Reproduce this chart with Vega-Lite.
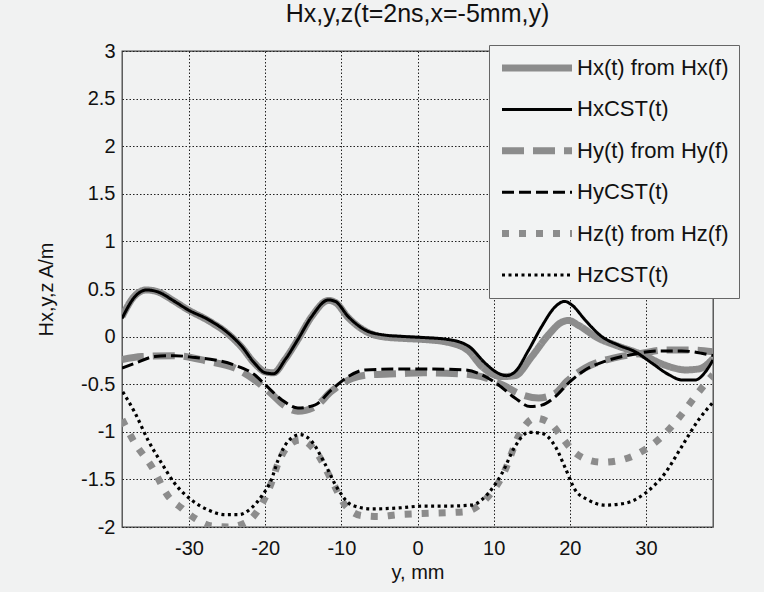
{
  "$schema": "https://vega.github.io/schema/vega-lite/v6.json",
  "autosize": {"type": "none"},
  "padding": {"left": 122, "top": 51, "right": 51, "bottom": 65},
  "width": 591,
  "height": 476,
  "background": "#f1f2f2",
  "title": {
    "text": "Hx,y,z(t=2ns,x=-5mm,y)",
    "frame": "group",
    "anchor": "middle",
    "offset": 14,
    "font": "Liberation Sans",
    "fontSize": 25,
    "fontWeight": "normal",
    "color": "#111"
  },
  "datasets": {
    "fft": [
      {"pos": -38.8, "H": 0.21, "series": "Hx(t) from Hx(f)"},
      {"pos": -37.1, "H": 0.43, "series": "Hx(t) from Hx(f)"},
      {"pos": -35.6, "H": 0.49, "series": "Hx(t) from Hx(f)"},
      {"pos": -34.1, "H": 0.47, "series": "Hx(t) from Hx(f)"},
      {"pos": -31.9, "H": 0.37, "series": "Hx(t) from Hx(f)"},
      {"pos": -30.1, "H": 0.28, "series": "Hx(t) from Hx(f)"},
      {"pos": -27.5, "H": 0.17, "series": "Hx(t) from Hx(f)"},
      {"pos": -24.9, "H": 0.03, "series": "Hx(t) from Hx(f)"},
      {"pos": -23.1, "H": -0.11, "series": "Hx(t) from Hx(f)"},
      {"pos": -21.4, "H": -0.28, "series": "Hx(t) from Hx(f)"},
      {"pos": -20.0, "H": -0.37, "series": "Hx(t) from Hx(f)"},
      {"pos": -18.9, "H": -0.38, "series": "Hx(t) from Hx(f)"},
      {"pos": -17.4, "H": -0.24, "series": "Hx(t) from Hx(f)"},
      {"pos": -15.7, "H": -0.03, "series": "Hx(t) from Hx(f)"},
      {"pos": -13.9, "H": 0.21, "series": "Hx(t) from Hx(f)"},
      {"pos": -11.7, "H": 0.38, "series": "Hx(t) from Hx(f)"},
      {"pos": -10.8, "H": 0.36, "series": "Hx(t) from Hx(f)"},
      {"pos": -9.1, "H": 0.2, "series": "Hx(t) from Hx(f)"},
      {"pos": -6.9, "H": 0.06, "series": "Hx(t) from Hx(f)"},
      {"pos": -4.7, "H": 0.0, "series": "Hx(t) from Hx(f)"},
      {"pos": -1.6, "H": -0.02, "series": "Hx(t) from Hx(f)"},
      {"pos": 0.8, "H": -0.03, "series": "Hx(t) from Hx(f)"},
      {"pos": 4.0, "H": -0.06, "series": "Hx(t) from Hx(f)"},
      {"pos": 6.7, "H": -0.15, "series": "Hx(t) from Hx(f)"},
      {"pos": 8.4, "H": -0.31, "series": "Hx(t) from Hx(f)"},
      {"pos": 11.1, "H": -0.42, "series": "Hx(t) from Hx(f)"},
      {"pos": 12.8, "H": -0.41, "series": "Hx(t) from Hx(f)"},
      {"pos": 15.0, "H": -0.21, "series": "Hx(t) from Hx(f)"},
      {"pos": 17.2, "H": 0.02, "series": "Hx(t) from Hx(f)"},
      {"pos": 18.9, "H": 0.15, "series": "Hx(t) from Hx(f)"},
      {"pos": 19.8, "H": 0.17, "series": "Hx(t) from Hx(f)"},
      {"pos": 21.1, "H": 0.12, "series": "Hx(t) from Hx(f)"},
      {"pos": 23.8, "H": -0.02, "series": "Hx(t) from Hx(f)"},
      {"pos": 26.0, "H": -0.09, "series": "Hx(t) from Hx(f)"},
      {"pos": 29.5, "H": -0.19, "series": "Hx(t) from Hx(f)"},
      {"pos": 32.5, "H": -0.3, "series": "Hx(t) from Hx(f)"},
      {"pos": 35.2, "H": -0.35, "series": "Hx(t) from Hx(f)"},
      {"pos": 36.9, "H": -0.34, "series": "Hx(t) from Hx(f)"},
      {"pos": 38.2, "H": -0.28, "series": "Hx(t) from Hx(f)"},
      {"pos": 38.8, "H": -0.23, "series": "Hx(t) from Hx(f)"},

      {"pos": -38.8, "H": -0.24, "series": "Hy(t) from Hy(f)"},
      {"pos": -36.2, "H": -0.21, "series": "Hy(t) from Hy(f)"},
      {"pos": -31.9, "H": -0.2, "series": "Hy(t) from Hy(f)"},
      {"pos": -27.5, "H": -0.26, "series": "Hy(t) from Hy(f)"},
      {"pos": -24.0, "H": -0.33, "series": "Hy(t) from Hy(f)"},
      {"pos": -21.4, "H": -0.455, "series": "Hy(t) from Hy(f)"},
      {"pos": -19.2, "H": -0.6, "series": "Hy(t) from Hy(f)"},
      {"pos": -17.4, "H": -0.73, "series": "Hy(t) from Hy(f)"},
      {"pos": -15.7, "H": -0.785, "series": "Hy(t) from Hy(f)"},
      {"pos": -13.5, "H": -0.74, "series": "Hy(t) from Hy(f)"},
      {"pos": -11.3, "H": -0.575, "series": "Hy(t) from Hy(f)"},
      {"pos": -8.6, "H": -0.44, "series": "Hy(t) from Hy(f)"},
      {"pos": -6.0, "H": -0.4, "series": "Hy(t) from Hy(f)"},
      {"pos": -2.5, "H": -0.39, "series": "Hy(t) from Hy(f)"},
      {"pos": 0.8, "H": -0.38, "series": "Hy(t) from Hy(f)"},
      {"pos": 5.4, "H": -0.39, "series": "Hy(t) from Hy(f)"},
      {"pos": 8.4, "H": -0.42, "series": "Hy(t) from Hy(f)"},
      {"pos": 11.1, "H": -0.505, "series": "Hy(t) from Hy(f)"},
      {"pos": 13.7, "H": -0.61, "series": "Hy(t) from Hy(f)"},
      {"pos": 15.9, "H": -0.645, "series": "Hy(t) from Hy(f)"},
      {"pos": 18.1, "H": -0.595, "series": "Hy(t) from Hy(f)"},
      {"pos": 19.6, "H": -0.47, "series": "Hy(t) from Hy(f)"},
      {"pos": 22.0, "H": -0.33, "series": "Hy(t) from Hy(f)"},
      {"pos": 26.0, "H": -0.22, "series": "Hy(t) from Hy(f)"},
      {"pos": 29.5, "H": -0.175, "series": "Hy(t) from Hy(f)"},
      {"pos": 32.5, "H": -0.14, "series": "Hy(t) from Hy(f)"},
      {"pos": 35.9, "H": -0.14, "series": "Hy(t) from Hy(f)"},
      {"pos": 38.8, "H": -0.16, "series": "Hy(t) from Hy(f)"},

      {"pos": -38.8, "H": -0.87, "series": "Hz(t) from Hz(f)"},
      {"pos": -37.1, "H": -1.12, "series": "Hz(t) from Hz(f)"},
      {"pos": -34.9, "H": -1.365, "series": "Hz(t) from Hz(f)"},
      {"pos": -32.7, "H": -1.68, "series": "Hz(t) from Hz(f)"},
      {"pos": -31.0, "H": -1.8, "series": "Hz(t) from Hz(f)"},
      {"pos": -29.2, "H": -1.91, "series": "Hz(t) from Hz(f)"},
      {"pos": -27.0, "H": -1.99, "series": "Hz(t) from Hz(f)"},
      {"pos": -24.9, "H": -2.0, "series": "Hz(t) from Hz(f)"},
      {"pos": -22.7, "H": -1.96, "series": "Hz(t) from Hz(f)"},
      {"pos": -20.9, "H": -1.82, "series": "Hz(t) from Hz(f)"},
      {"pos": -19.2, "H": -1.54, "series": "Hz(t) from Hz(f)"},
      {"pos": -18.3, "H": -1.33, "series": "Hz(t) from Hz(f)"},
      {"pos": -17.2, "H": -1.17, "series": "Hz(t) from Hz(f)"},
      {"pos": -15.4, "H": -1.085, "series": "Hz(t) from Hz(f)"},
      {"pos": -13.5, "H": -1.19, "series": "Hz(t) from Hz(f)"},
      {"pos": -11.3, "H": -1.505, "series": "Hz(t) from Hz(f)"},
      {"pos": -9.5, "H": -1.77, "series": "Hz(t) from Hz(f)"},
      {"pos": -7.3, "H": -1.88, "series": "Hz(t) from Hz(f)"},
      {"pos": -5.1, "H": -1.89, "series": "Hz(t) from Hz(f)"},
      {"pos": -2.5, "H": -1.87, "series": "Hz(t) from Hz(f)"},
      {"pos": 0.0, "H": -1.86, "series": "Hz(t) from Hz(f)"},
      {"pos": 6.2, "H": -1.84, "series": "Hz(t) from Hz(f)"},
      {"pos": 8.4, "H": -1.75, "series": "Hz(t) from Hz(f)"},
      {"pos": 11.1, "H": -1.47, "series": "Hz(t) from Hz(f)"},
      {"pos": 13.7, "H": -0.98, "series": "Hz(t) from Hz(f)"},
      {"pos": 15.4, "H": -0.857, "series": "Hz(t) from Hz(f)"},
      {"pos": 17.4, "H": -0.91, "series": "Hz(t) from Hz(f)"},
      {"pos": 18.9, "H": -1.05, "series": "Hz(t) from Hz(f)"},
      {"pos": 20.3, "H": -1.19, "series": "Hz(t) from Hz(f)"},
      {"pos": 22.4, "H": -1.295, "series": "Hz(t) from Hz(f)"},
      {"pos": 24.2, "H": -1.32, "series": "Hz(t) from Hz(f)"},
      {"pos": 26.8, "H": -1.295, "series": "Hz(t) from Hz(f)"},
      {"pos": 29.5, "H": -1.205, "series": "Hz(t) from Hz(f)"},
      {"pos": 32.1, "H": -1.05, "series": "Hz(t) from Hz(f)"},
      {"pos": 34.3, "H": -0.855, "series": "Hz(t) from Hz(f)"},
      {"pos": 36.5, "H": -0.625, "series": "Hz(t) from Hz(f)"},
      {"pos": 38.2, "H": -0.455, "series": "Hz(t) from Hz(f)"},
      {"pos": 38.8, "H": -0.4, "series": "Hz(t) from Hz(f)"}
    ],
    "cst": [
      {"pos": -38.8, "H": 0.19, "series": "HxCST(t)"},
      {"pos": -37.1, "H": 0.42, "series": "HxCST(t)"},
      {"pos": -35.6, "H": 0.49, "series": "HxCST(t)"},
      {"pos": -34.1, "H": 0.47, "series": "HxCST(t)"},
      {"pos": -31.9, "H": 0.37, "series": "HxCST(t)"},
      {"pos": -30.1, "H": 0.28, "series": "HxCST(t)"},
      {"pos": -27.5, "H": 0.18, "series": "HxCST(t)"},
      {"pos": -24.9, "H": 0.04, "series": "HxCST(t)"},
      {"pos": -23.1, "H": -0.1, "series": "HxCST(t)"},
      {"pos": -21.4, "H": -0.28, "series": "HxCST(t)"},
      {"pos": -20.0, "H": -0.38, "series": "HxCST(t)"},
      {"pos": -18.9, "H": -0.39, "series": "HxCST(t)"},
      {"pos": -17.4, "H": -0.245, "series": "HxCST(t)"},
      {"pos": -15.7, "H": -0.03, "series": "HxCST(t)"},
      {"pos": -13.9, "H": 0.21, "series": "HxCST(t)"},
      {"pos": -11.7, "H": 0.385, "series": "HxCST(t)"},
      {"pos": -10.8, "H": 0.37, "series": "HxCST(t)"},
      {"pos": -9.1, "H": 0.21, "series": "HxCST(t)"},
      {"pos": -6.9, "H": 0.07, "series": "HxCST(t)"},
      {"pos": -4.7, "H": 0.02, "series": "HxCST(t)"},
      {"pos": -1.6, "H": 0.0, "series": "HxCST(t)"},
      {"pos": 0.8, "H": -0.01, "series": "HxCST(t)"},
      {"pos": 4.0, "H": -0.03, "series": "HxCST(t)"},
      {"pos": 6.7, "H": -0.1, "series": "HxCST(t)"},
      {"pos": 8.9, "H": -0.28, "series": "HxCST(t)"},
      {"pos": 10.6, "H": -0.385, "series": "HxCST(t)"},
      {"pos": 11.7, "H": -0.41, "series": "HxCST(t)"},
      {"pos": 12.8, "H": -0.37, "series": "HxCST(t)"},
      {"pos": 14.6, "H": -0.14, "series": "HxCST(t)"},
      {"pos": 16.3, "H": 0.105, "series": "HxCST(t)"},
      {"pos": 18.1, "H": 0.315, "series": "HxCST(t)"},
      {"pos": 19.3, "H": 0.37, "series": "HxCST(t)"},
      {"pos": 20.3, "H": 0.33, "series": "HxCST(t)"},
      {"pos": 22.0, "H": 0.175, "series": "HxCST(t)"},
      {"pos": 24.2, "H": 0.0, "series": "HxCST(t)"},
      {"pos": 26.4, "H": -0.09, "series": "HxCST(t)"},
      {"pos": 28.6, "H": -0.16, "series": "HxCST(t)"},
      {"pos": 30.8, "H": -0.28, "series": "HxCST(t)"},
      {"pos": 33.0, "H": -0.4, "series": "HxCST(t)"},
      {"pos": 34.7, "H": -0.455, "series": "HxCST(t)"},
      {"pos": 36.5, "H": -0.455, "series": "HxCST(t)"},
      {"pos": 37.8, "H": -0.37, "series": "HxCST(t)"},
      {"pos": 38.8, "H": -0.245, "series": "HxCST(t)"},

      {"pos": -38.8, "H": -0.33, "series": "HyCST(t)"},
      {"pos": -37.1, "H": -0.28, "series": "HyCST(t)"},
      {"pos": -34.5, "H": -0.21, "series": "HyCST(t)"},
      {"pos": -31.9, "H": -0.2, "series": "HyCST(t)"},
      {"pos": -29.2, "H": -0.22, "series": "HyCST(t)"},
      {"pos": -26.6, "H": -0.245, "series": "HyCST(t)"},
      {"pos": -24.0, "H": -0.3, "series": "HyCST(t)"},
      {"pos": -21.4, "H": -0.4, "series": "HyCST(t)"},
      {"pos": -20.0, "H": -0.505, "series": "HyCST(t)"},
      {"pos": -17.8, "H": -0.665, "series": "HyCST(t)"},
      {"pos": -15.7, "H": -0.75, "series": "HyCST(t)"},
      {"pos": -13.5, "H": -0.72, "series": "HyCST(t)"},
      {"pos": -11.3, "H": -0.56, "series": "HyCST(t)"},
      {"pos": -9.1, "H": -0.42, "series": "HyCST(t)"},
      {"pos": -6.9, "H": -0.35, "series": "HyCST(t)"},
      {"pos": -2.5, "H": -0.34, "series": "HyCST(t)"},
      {"pos": 0.8, "H": -0.34, "series": "HyCST(t)"},
      {"pos": 6.2, "H": -0.35, "series": "HyCST(t)"},
      {"pos": 8.4, "H": -0.4, "series": "HyCST(t)"},
      {"pos": 10.6, "H": -0.505, "series": "HyCST(t)"},
      {"pos": 12.8, "H": -0.645, "series": "HyCST(t)"},
      {"pos": 14.8, "H": -0.735, "series": "HyCST(t)"},
      {"pos": 16.3, "H": -0.72, "series": "HyCST(t)"},
      {"pos": 18.1, "H": -0.63, "series": "HyCST(t)"},
      {"pos": 19.8, "H": -0.49, "series": "HyCST(t)"},
      {"pos": 22.0, "H": -0.35, "series": "HyCST(t)"},
      {"pos": 24.6, "H": -0.26, "series": "HyCST(t)"},
      {"pos": 28.1, "H": -0.19, "series": "HyCST(t)"},
      {"pos": 31.6, "H": -0.15, "series": "HyCST(t)"},
      {"pos": 34.7, "H": -0.15, "series": "HyCST(t)"},
      {"pos": 37.3, "H": -0.175, "series": "HyCST(t)"},
      {"pos": 38.8, "H": -0.2, "series": "HyCST(t)"},

      {"pos": -38.7, "H": -0.58, "series": "HzCST(t)"},
      {"pos": -37.1, "H": -0.8, "series": "HzCST(t)"},
      {"pos": -35.4, "H": -1.085, "series": "HzCST(t)"},
      {"pos": -33.6, "H": -1.33, "series": "HzCST(t)"},
      {"pos": -31.9, "H": -1.54, "series": "HzCST(t)"},
      {"pos": -29.7, "H": -1.715, "series": "HzCST(t)"},
      {"pos": -27.5, "H": -1.82, "series": "HzCST(t)"},
      {"pos": -25.3, "H": -1.87, "series": "HzCST(t)"},
      {"pos": -23.5, "H": -1.87, "series": "HzCST(t)"},
      {"pos": -21.8, "H": -1.8, "series": "HzCST(t)"},
      {"pos": -20.5, "H": -1.68, "series": "HzCST(t)"},
      {"pos": -19.2, "H": -1.505, "series": "HzCST(t)"},
      {"pos": -18.3, "H": -1.295, "series": "HzCST(t)"},
      {"pos": -17.0, "H": -1.1, "series": "HzCST(t)"},
      {"pos": -15.4, "H": -1.03, "series": "HzCST(t)"},
      {"pos": -13.9, "H": -1.1, "series": "HzCST(t)"},
      {"pos": -12.2, "H": -1.33, "series": "HzCST(t)"},
      {"pos": -10.4, "H": -1.61, "series": "HzCST(t)"},
      {"pos": -8.6, "H": -1.77, "series": "HzCST(t)"},
      {"pos": -6.0, "H": -1.81, "series": "HzCST(t)"},
      {"pos": -2.5, "H": -1.8, "series": "HzCST(t)"},
      {"pos": 0.8, "H": -1.78, "series": "HzCST(t)"},
      {"pos": 4.0, "H": -1.78, "series": "HzCST(t)"},
      {"pos": 7.1, "H": -1.77, "series": "HzCST(t)"},
      {"pos": 9.3, "H": -1.645, "series": "HzCST(t)"},
      {"pos": 11.1, "H": -1.435, "series": "HzCST(t)"},
      {"pos": 12.8, "H": -1.155, "series": "HzCST(t)"},
      {"pos": 14.6, "H": -1.005, "series": "HzCST(t)"},
      {"pos": 16.3, "H": -1.015, "series": "HzCST(t)"},
      {"pos": 18.1, "H": -1.155, "series": "HzCST(t)"},
      {"pos": 19.4, "H": -1.38, "series": "HzCST(t)"},
      {"pos": 20.7, "H": -1.61, "series": "HzCST(t)"},
      {"pos": 22.4, "H": -1.715, "series": "HzCST(t)"},
      {"pos": 24.6, "H": -1.77, "series": "HzCST(t)"},
      {"pos": 27.3, "H": -1.75, "series": "HzCST(t)"},
      {"pos": 29.9, "H": -1.645, "series": "HzCST(t)"},
      {"pos": 32.5, "H": -1.435, "series": "HzCST(t)"},
      {"pos": 34.7, "H": -1.155, "series": "HzCST(t)"},
      {"pos": 36.9, "H": -0.875, "series": "HzCST(t)"},
      {"pos": 38.8, "H": -0.69, "series": "HzCST(t)"}
    ]
  },
  "encoding": {
    "x": {
      "field": "pos", "type": "quantitative",
      "scale": {"domain": [-38.8, 38.8], "nice": false, "zero": false},
      "axis": {
        "title": "y, mm",
        "values": [-30, -20, -10, 0, 10, 20, 30],
        "labelExpr": "'' + datum.value",
        "labelPadding": 11,
        "titlePadding": 4
      }
    },
    "y": {
      "field": "H", "type": "quantitative",
      "scale": {"domain": [-2, 3], "nice": false, "zero": false},
      "axis": {
        "title": "Hx,y,z A/m",
        "values": [-2, -1.5, -1, -0.5, 0, 0.5, 1, 1.5, 2, 2.5, 3],
        "labelExpr": "'' + datum.value",
        "labelPadding": 7,
        "titlePadding": 24
      }
    },
    "color": {
      "field": "series", "type": "nominal",
      "scale": {
        "domain": ["Hx(t) from Hx(f)", "HxCST(t)", "Hy(t) from Hy(f)", "HyCST(t)", "Hz(t) from Hz(f)", "HzCST(t)"],
        "range": ["#8c8c8c", "#000000", "#8c8c8c", "#000000", "#8c8c8c", "#000000"]
      },
      "legend": {"title": null}
    },
    "strokeWidth": {
      "field": "series", "type": "nominal",
      "scale": {
        "type": "ordinal",
        "domain": ["Hx(t) from Hx(f)", "HxCST(t)", "Hy(t) from Hy(f)", "HyCST(t)", "Hz(t) from Hz(f)", "HzCST(t)"],
        "range": [7, 3, 7, 3, 7, 3.2]
      },
      "legend": {"title": null}
    },
    "strokeDash": {
      "field": "series", "type": "nominal",
      "scale": {
        "domain": ["Hx(t) from Hx(f)", "HxCST(t)", "Hy(t) from Hy(f)", "HyCST(t)", "Hz(t) from Hz(f)", "HzCST(t)"],
        "range": [[1, 0], [1, 0], [22, 9], [12, 5], [7, 10], [3, 3.5]]
      },
      "legend": {"title": null}
    }
  },
  "layer": [
    {
      "data": {"name": "fft"},
      "mark": {"type": "line", "interpolate": "monotone", "clip": true, "strokeJoin": "round"}
    },
    {
      "data": {"name": "cst"},
      "mark": {"type": "line", "interpolate": "monotone", "clip": true, "strokeJoin": "round"}
    }
  ],
  "config": {
    "view": {"stroke": "#444444", "strokeWidth": 1.3, "fill": "#f1f2f2"},
    "axis": {
      "domain": false,
      "ticks": false,
      "grid": true,
      "gridColor": "#222222",
      "gridDash": [1.5, 2],
      "gridWidth": 1,
      "labelFont": "Liberation Sans",
      "labelFontSize": 20,
      "labelColor": "#111111",
      "titleFont": "Liberation Sans",
      "titleFontSize": 20,
      "titleFontWeight": "normal",
      "titleColor": "#111111"
    },
    "legend": {
      "orient": "none",
      "legendX": 367,
      "legendY": -6,
      "symbolType": "stroke",
      "symbolSize": 4900,
      "clipHeight": 27,
      "rowPadding": 14.4,
      "padding": 9.5,
      "labelOffset": 1.5,
      "labelFont": "Liberation Sans",
      "labelFontSize": 22,
      "labelColor": "#111111",
      "labelLimit": 400,
      "fillColor": "#f2f3f3",
      "strokeColor": "#666666",
      "cornerRadius": 0
    }
  }
}
